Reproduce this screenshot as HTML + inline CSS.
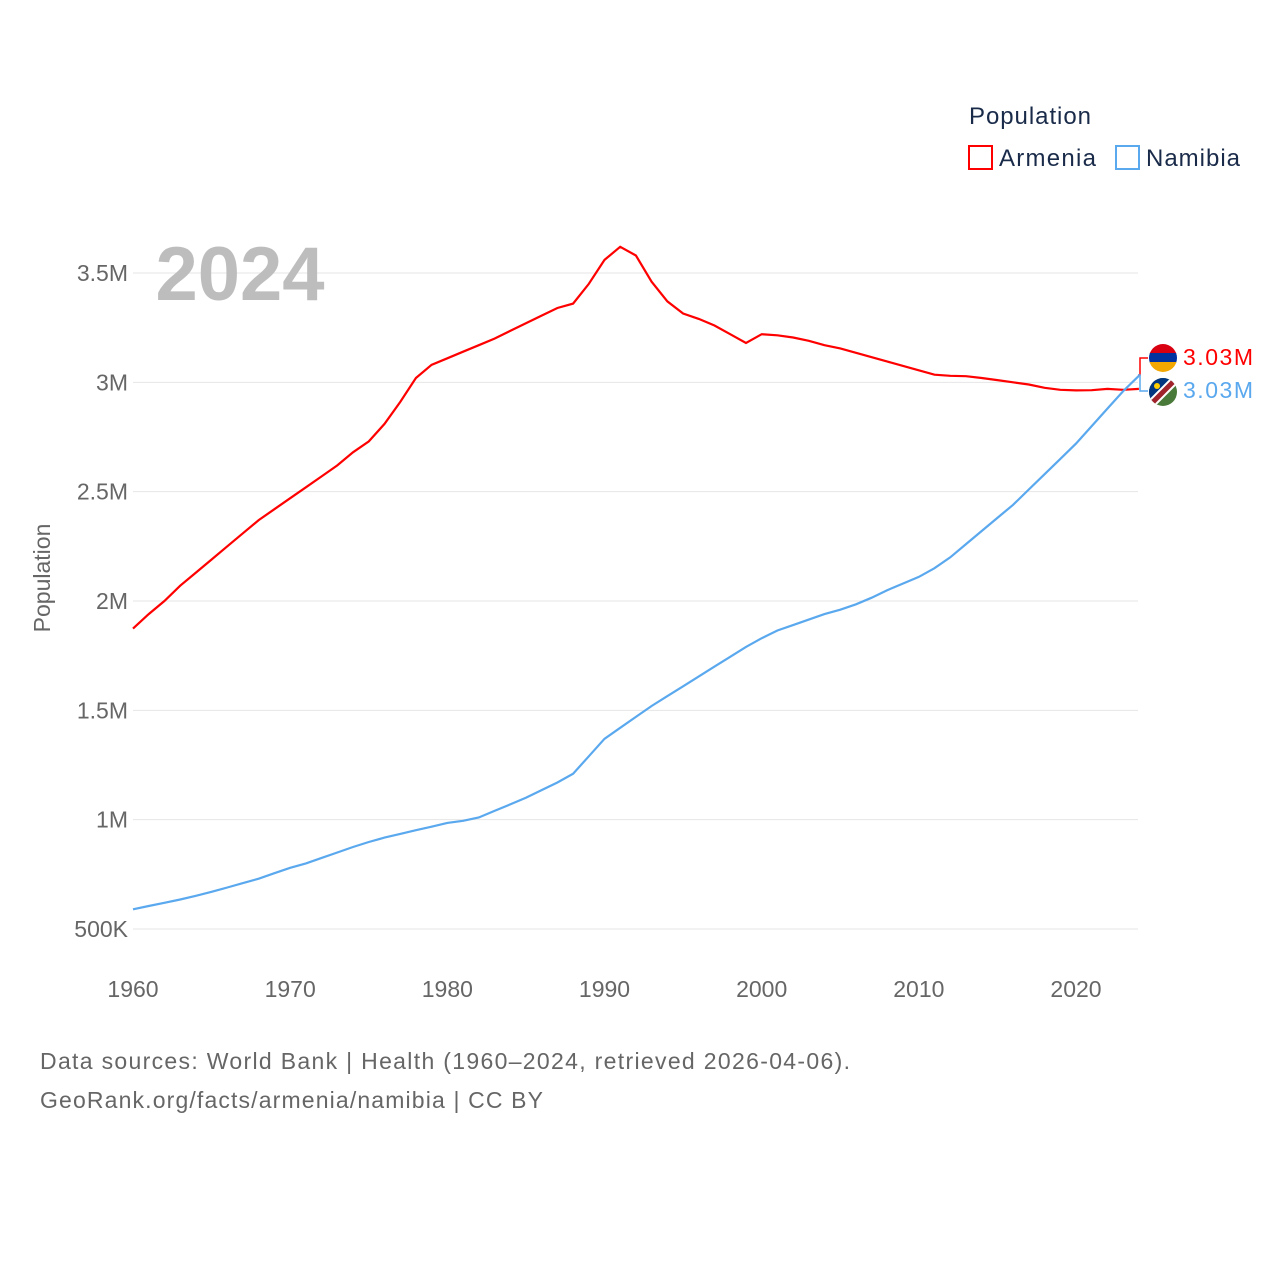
<!DOCTYPE html>
<html><head><meta charset="utf-8"><style>
body{margin:0;background:#fff;font-family:"Liberation Sans",sans-serif}
</style></head><body>
<svg width="1280" height="1280" viewBox="0 0 1280 1280" font-family="Liberation Sans, sans-serif">
<g id="grid"></g>
<g id="yt" fill="#666" font-size="23" text-anchor="end"></g>
<g id="xt" fill="#666" font-size="23" text-anchor="middle"></g>
<text x="240" y="300" font-size="76" font-weight="bold" fill="#bdbdbd" text-anchor="middle">2024</text>
<text transform="translate(50,578) rotate(-90)" font-size="23" fill="#666" text-anchor="middle">Population</text>
<g id="lines"></g>
<g>
<text x="969" y="124" font-size="24" fill="#1a2b4a" textLength="122">Population</text>
<g><rect x="969" y="146" width="23" height="23" fill="none" stroke="#f00" stroke-width="2"/><text x="999" y="166" font-size="24" fill="#1a2b4a" textLength="97">Armenia</text></g>
<g><rect x="1116" y="146" width="23" height="23" fill="none" stroke="#5aa8ee" stroke-width="2"/><text x="1146" y="166" font-size="24" fill="#1a2b4a" textLength="94">Namibia</text></g>
</g>
<g>
<path d="M1138,375 L1140,375 L1140,358 L1148,358" fill="none" stroke="#f00" stroke-width="1.5"/>
<path d="M1138,375 L1140,375 L1140,391 L1148,391" fill="none" stroke="#5aa8ee" stroke-width="1.5"/>
<clipPath id="c1"><circle cx="1163" cy="358" r="14"/></clipPath>
<g clip-path="url(#c1)"><rect x="1149" y="344" width="28" height="10" fill="#d90012"/><rect x="1149" y="353" width="28" height="10" fill="#0033a0"/><rect x="1149" y="362" width="28" height="10" fill="#f2a800"/></g>
<clipPath id="c2"><circle cx="1163" cy="392" r="14"/></clipPath>
<g clip-path="url(#c2)"><rect x="1149" y="378" width="28" height="28" fill="#4a7a3a"/><polygon points="1149,378 1177,378 1149,406" fill="#003580"/><line x1="1149" y1="406" x2="1177" y2="378" stroke="#fff" stroke-width="9"/><line x1="1149" y1="406" x2="1177" y2="378" stroke="#a0222a" stroke-width="5"/><circle cx="1157" cy="386" r="3" fill="#ffce00"/></g>
<text x="1183" y="365" font-size="23" fill="#f00" textLength="70">3.03M</text>
<text x="1183" y="398" font-size="23" fill="#5aa8ee" textLength="70">3.03M</text>
</g>
<text x="40" y="1069" font-size="23" fill="#666" textLength="810">Data sources: World Bank | Health (1960–2024, retrieved 2026-04-06).</text>
<text x="40" y="1108" font-size="23" fill="#666" textLength="503">GeoRank.org/facts/armenia/namibia | CC BY</text>
</svg>
<script>
const years=[];for(let y=1960;y<=2024;y++)years.push(y);
const armenia=[1.874,1.94,2.00,2.07,2.13,2.19,2.25,2.31,2.37,2.42,2.47,2.52,2.57,2.62,2.68,2.73,2.81,2.91,3.02,3.08,3.11,3.14,3.17,3.20,3.235,3.27,3.305,3.34,3.36,3.45,3.56,3.62,3.58,3.46,3.37,3.315,3.29,3.26,3.22,3.18,3.22,3.215,3.205,3.19,3.17,3.155,3.135,3.115,3.095,3.075,3.055,3.035,3.03,3.028,3.02,3.01,3.0,2.99,2.975,2.966,2.963,2.964,2.97,2.966,2.97];
const namibia=[0.59,0.605,0.62,0.635,0.652,0.67,0.69,0.71,0.73,0.755,0.78,0.80,0.825,0.85,0.875,0.898,0.918,0.935,0.952,0.968,0.985,0.995,1.01,1.04,1.07,1.10,1.135,1.17,1.21,1.29,1.37,1.42,1.47,1.52,1.565,1.61,1.655,1.70,1.745,1.79,1.83,1.865,1.89,1.915,1.94,1.96,1.985,2.015,2.05,2.08,2.11,2.15,2.20,2.26,2.32,2.38,2.44,2.51,2.58,2.65,2.72,2.80,2.88,2.96,3.03];
const yTicks=[0.5,1,1.5,2,2.5,3,3.5];
const yTickLabels=["500K","1M","1.5M","2M","2.5M","3M","3.5M"];
const xTicks=[1960,1970,1980,1990,2000,2010,2020];
const X=y=>133+(y-1960)*(1076-133)/60;
const Y=v=>929-(v-0.5)*(929-273)/3;
const NS="http://www.w3.org/2000/svg";
const grid=document.getElementById('grid'),yt=document.getElementById('yt'),xt=document.getElementById('xt'),lines=document.getElementById('lines');
yTicks.forEach((v,i)=>{
 const l=document.createElementNS(NS,'line');
 
 
 l.setAttribute('x1',133);l.setAttribute('x2',1138);l.setAttribute('y1',Y(v));l.setAttribute('y2',Y(v));
 l.setAttribute('stroke','#e6e6e6');grid.appendChild(l);
 const t=document.createElementNS(NS,'text');
 
 
 t.setAttribute('x',128);t.setAttribute('y',Y(v)+8);t.textContent=yTickLabels[i];yt.appendChild(t);
});
xTicks.forEach(v=>{
 const t=document.createElementNS(NS,'text');
 
 
 t.setAttribute('x',X(v));t.setAttribute('y',997);t.textContent=v;xt.appendChild(t);
});
[[armenia,'#f00','armenia-line'],[namibia,'#5aa8ee','namibia-line']].forEach(([d,c,n])=>{
 const p=document.createElementNS(NS,'path');
 
 
 p.setAttribute('d',d.map((v,i)=>(i?'L':'M')+X(years[i]).toFixed(1)+','+Y(v).toFixed(1)).join(''));
 p.setAttribute('fill','none');p.setAttribute('stroke',c);p.setAttribute('stroke-width','2.2');
 lines.appendChild(p);
});
</script>
</body></html>
